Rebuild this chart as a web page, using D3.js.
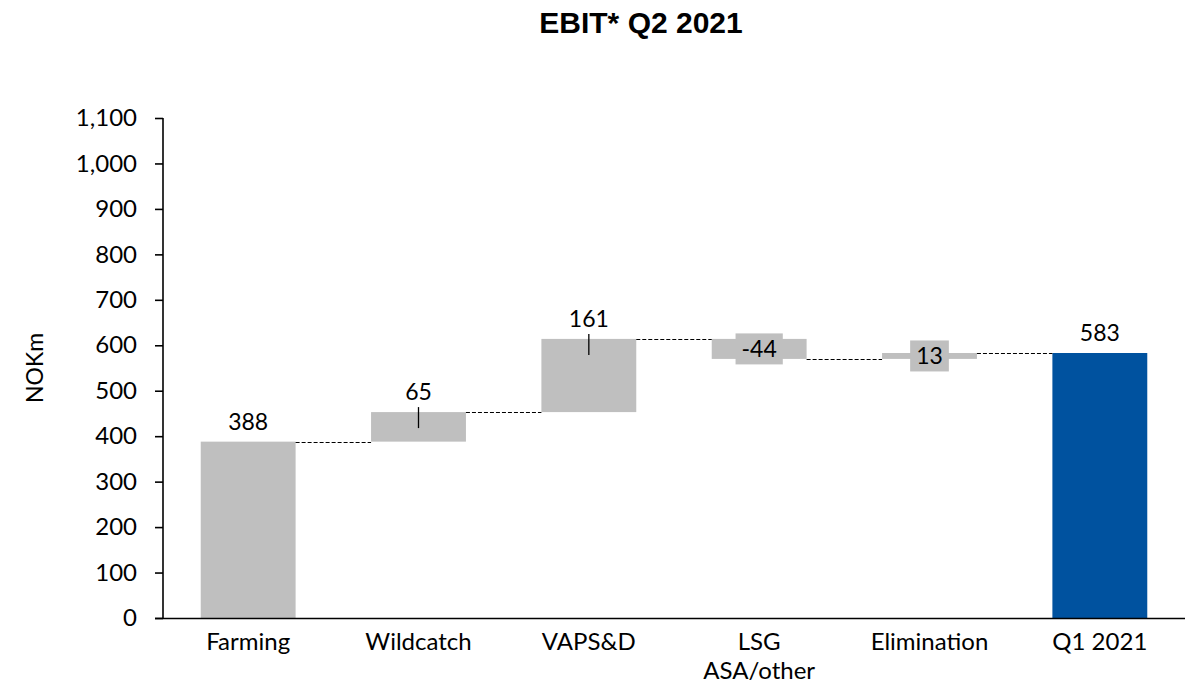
<!DOCTYPE html>
<html>
<head>
<meta charset="utf-8">
<script src="https://cdn.jsdelivr.net/npm/d3@7"></script>
<style>
  html, body { margin: 0; padding: 0; background: #fff; }
  svg { display: block; }
</style>
</head>
<body>
<svg id="chart" width="1201" height="685"></svg>
<script>
// ---- Data ----
const categories = [["Farming"], ["Wildcatch"], ["VAPS&D"], ["LSG", "ASA/other"], ["Elimination"], ["Q1 2021"]];
const values = [388, 65, 161, -44, 13, 583];
const kinds = ["total", "delta", "delta", "delta", "delta", "total"];
const yTicks = [0, 100, 200, 300, 400, 500, 600, 700, 800, 900, 1000, 1100];
const title = "EBIT* Q2 2021";
const yLabel = "NOKm";

// ---- Build waterfall ----
let running = 0;
const bars = values.map((v, i) => {
  let start, end;
  if (kinds[i] === "total") { start = 0; end = v; running = v; }
  else { start = running; end = running + v; running = end; }
  return { i, key: categories[i].join(" "), lines: categories[i], v, kind: kinds[i], start, end };
});

const FONT = "Lato, 'Open Sans', sans-serif";
const svg = d3.select("#chart");

const x = d3.scaleBand().domain(bars.map(d => d.key)).range([163, 1185]).paddingInner(0.443).paddingOuter(0.2215);
const y = d3.scaleLinear().domain([0, 1100]).range([618, 118]);

const grey = "#BFBFBF", blue = "#00529F";

// Title
svg.append("text").attr("x", 641).attr("y", 33).attr("text-anchor", "middle")
  .attr("font-family", "'Liberation Sans', Arial, sans-serif").attr("font-weight", "bold")
  .attr("font-size", 30).attr("fill", "#000").text(title);

// Y label
svg.append("text").attr("transform", "translate(43,368) rotate(-90)").attr("text-anchor", "middle")
  .attr("font-family", FONT).attr("font-size", 23).attr("fill", "#000").text(yLabel);

// Y axis
const yAxis = svg.append("g").attr("transform", "translate(163,0)")
  .call(d3.axisLeft(y).tickValues(yTicks).tickSize(8).tickPadding(18).tickFormat(d3.format(",")));
yAxis.select(".domain").attr("stroke", "#000").attr("stroke-width", 1.6).attr("d", "M0,118V618");
yAxis.selectAll(".tick line").attr("stroke", "#000").attr("stroke-width", 1.6);
yAxis.selectAll(".tick text").attr("font-family", FONT).attr("font-size", 24).attr("fill", "#000");

// Bars
svg.append("g").selectAll("rect").data(bars).join("rect")
  .attr("x", d => x(d.key)).attr("width", x.bandwidth())
  .attr("y", d => y(Math.max(d.start, d.end)))
  .attr("height", d => Math.abs(y(d.start) - y(d.end)))
  .attr("fill", d => d.kind === "total" && d.i > 0 ? blue : grey);

// Connectors
svg.append("g").selectAll("line").data(bars.slice(0, -1)).join("line")
  .attr("x1", d => x(d.key) + x.bandwidth())
  .attr("x2", d => x(bars[d.i + 1].key))
  .attr("y1", d => Math.round(y(d.end)) + 0.5).attr("y2", d => Math.round(y(d.end)) + 0.5)
  .attr("stroke", "#000").attr("stroke-width", 1.1).attr("stroke-dasharray", "4,2");

// X axis line
svg.append("line").attr("x1", 155).attr("x2", 1185).attr("y1", 618.5).attr("y2", 618.5)
  .attr("stroke", "#000").attr("stroke-width", 1.6);

// X labels
const xl = svg.append("g");
bars.forEach(d => {
  const t = xl.append("text").attr("text-anchor", "middle")
    .attr("font-family", FONT).attr("font-size", 24).attr("fill", "#000");
  d.lines.forEach((ln, k) => {
    t.append("tspan").attr("x", x(d.key) + x.bandwidth() / 2).attr("y", 650 + k * 29).text(ln);
  });
});

// Data labels
const lg = svg.append("g");
bars.forEach(d => {
  const cx = x(d.key) + x.bandwidth() / 2;
  const top = y(Math.max(d.start, d.end));
  const label = String(d.v);
  if (d.kind === "total") {
    lg.append("text").attr("x", cx).attr("y", top - 12).attr("text-anchor", "middle")
      .attr("font-family", FONT).attr("font-size", 23).attr("fill", "#000").text(label);
  } else if (d.v > 50) {
    lg.append("line").attr("x1", cx).attr("x2", cx).attr("y1", top - 5).attr("y2", top + 16)
      .attr("stroke", "#000").attr("stroke-width", 1.3);
    lg.append("text").attr("x", cx).attr("y", top - 12).attr("text-anchor", "middle")
      .attr("font-family", FONT).attr("font-size", 23).attr("fill", "#000").text(label);
  } else {
    const cy = y((d.start + d.end) / 2);
    const t = lg.append("text").attr("x", cx).attr("y", cy + 8).attr("text-anchor", "middle")
      .attr("font-family", FONT).attr("font-size", 23).attr("fill", "#000").text(label);
    const bb = t.node().getBBox();
    lg.insert("rect", () => t.node()).attr("x", bb.x - 6).attr("width", bb.width + 12)
      .attr("y", cy - 15.5).attr("height", 31).attr("fill", grey);
  }
});
</script>
</body>
</html>
